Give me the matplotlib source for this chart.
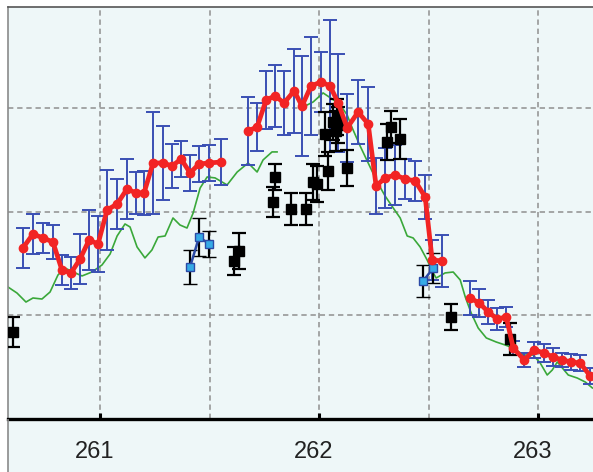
import numpy as np
import matplotlib
matplotlib.use("Agg")
import matplotlib.pyplot as plt
from matplotlib.patches import Rectangle
from matplotlib.transforms import ScaledTranslation

plt.rcParams['font.family'] = ['Liberation Sans', 'DejaVu Sans']

# binned mean curve, three pieces separated by gaps
red_x = [
    [260.648, 260.694, 260.740, 260.785, 260.826, 260.868, 260.909, 260.950, 260.991,
     261.032, 261.078, 261.123, 261.164, 261.201, 261.242, 261.288, 261.329, 261.370,
     261.411, 261.452, 261.498, 261.553],
    [261.676, 261.717, 261.758, 261.799, 261.840, 261.886, 261.922, 261.963, 262.009,
     262.050, 262.087, 262.128, 262.178, 262.224, 262.260, 262.301, 262.347, 262.393,
     262.438, 262.484, 262.516, 262.562],
    [262.689, 262.731, 262.772, 262.813, 262.854, 262.886, 262.936, 262.982, 263.027,
     263.068, 263.110, 263.151, 263.192, 263.237],
]
red_y = [
    [1.652, 1.787, 1.749, 1.710, 1.440, 1.411, 1.546, 1.729, 1.691, 2.019, 2.077, 2.222,
     2.184, 2.184, 2.473, 2.473, 2.444, 2.512, 2.377, 2.464, 2.473, 2.483],
    [2.783, 2.821, 3.082, 3.121, 3.053, 3.169, 3.024, 3.217, 3.256, 3.217, 3.053, 2.812,
     2.966, 2.850, 2.251, 2.329, 2.357, 2.319, 2.300, 2.145, 1.536, 1.527],
    [1.169, 1.121, 1.034, 0.966, 0.986, 0.686, 0.570, 0.667, 0.638, 0.599, 0.570, 0.551,
     0.541, 0.415],
]
red_err = [
    [0.193, 0.193, 0.145, 0.164, 0.145, 0.155, 0.242, 0.290, 0.271, 0.386, 0.242, 0.290,
     0.203, 0.213, 0.493, 0.357, 0.213, 0.174, 0.174, 0.174, 0.174, 0.222],
    [0.329, 0.232, 0.280, 0.300, 0.309, 0.406, 0.483, 0.473, 0.290, 0.638, 0.473, 0.329,
     0.309, 0.357, 0.271, 0.290, 0.290, 0.193, 0.193, 0.213, 0.193, 0.251],
    [0.164, 0.135, 0.116, 0.106, 0.097, 0.068, 0.068, 0.077, 0.087, 0.087, 0.068, 0.077,
     0.077, 0.077],
]

# model curve (nan = gap)
green_x = [260.580, 260.621, 260.662, 260.694, 260.735, 260.772, 260.808, 260.840, 260.877,
           260.918, 260.963, 261.009, 261.046, 261.078, 261.114, 261.137, 261.169, 261.205,
           261.237, 261.265, 261.297, 261.333, 261.365, 261.397, 261.425, 261.457, 261.489,
           261.525, 261.580, 261.626, 261.676, 261.717, 261.744, 261.785, 261.808, 261.87,
           261.927, 261.973, 262.018, 262.059, 262.096, 262.128, 262.151, 262.187, 262.224,
           262.265, 262.301, 262.338, 262.370, 262.402, 262.429, 262.461, 262.493, 262.516,
           262.534, 262.575, 262.612, 262.644, 262.667, 262.694, 262.726, 262.763, 262.808,
           262.849, 262.886, 262.932, 262.977, 263.009, 263.041, 263.064, 263.087, 263.110,
           263.137, 263.178, 263.215, 263.247]
green_y = [1.275, 1.217, 1.130, 1.169, 1.159, 1.227, 1.391, 1.459, 1.420, 1.382, 1.420, 1.488,
           1.594, 1.768, 1.884, 1.855, 1.662, 1.556, 1.633, 1.758, 1.768, 1.942, 1.874, 1.845,
           1.990, 2.232, 2.338, 2.329, 2.261, 2.386, 2.473, 2.386, 2.502, 2.580, 2.580, np.nan,
           3.014, 3.063, 3.150, 3.092, 3.034, 2.937, 2.812, 2.638, 2.473, 2.290, 2.155, 2.039,
           1.942, 1.768, 1.749, 1.662, 1.536, 1.430, 1.362, 1.411, 1.420, 1.343, 1.179, 1.024,
           0.879, 0.783, 0.744, 0.715, 0.686, 0.618, 0.618, 0.541, 0.425, 0.473, 0.551, 0.493,
           0.425, 0.396, 0.357, 0.300]

# individual measurements
black_x = [260.603, 261.612, 261.635, 261.790, 261.799, 261.872, 261.941, 261.973, 261.991,
           262.027, 262.041, 262.064, 262.078, 262.082, 262.087, 262.128, 262.311, 262.329,
           262.370, 262.603, 262.872]
black_y = [0.841, 1.527, 1.623, 2.097, 2.338, 2.029, 2.029, 2.290, 2.271, 2.754, 2.396, 2.870,
           2.783, 2.918, 2.841, 2.425, 2.676, 2.821, 2.705, 0.986, 0.773]
black_err = [0.145, 0.135, 0.174, 0.145, 0.126, 0.155, 0.155, 0.174, 0.174, 0.213, 0.184, 0.174,
             0.193, 0.174, 0.174, 0.174, 0.174, 0.155, 0.193, 0.126, 0.155]

blue_x = [[261.411, 261.452, 261.498], [262.475, 262.521]]
blue_y = [[1.469, 1.758, 1.691], [1.333, 1.459]]
blue_err = [[0.164, 0.184, 0.126], [0.155, 0.145]]

bg = '#eef7f8'
fig = plt.figure(figsize=(5.93, 4.72), dpi=100, facecolor='white')
fig.patches.append(Rectangle((8 / 593, 0), 1, 465 / 472, transform=fig.transFigure,
                             facecolor=bg, edgecolor='none', zorder=-1))
ax = fig.add_axes([8 / 593, 53 / 472, 1 - 8 / 593, 412 / 472])
ax.set_facecolor(bg)

ax.plot(green_x, green_y, color='#3aa83a', lw=1.2, zorder=2)

for bx, by, be in zip(blue_x, blue_y, blue_err):
    ax.errorbar(bx, by, yerr=be, fmt='-s', color='#2b4aa6', lw=1.8, ms=6,
                mfc='#36aae6', mec='#2b4aa6', mew=1.0, ecolor='black',
                elinewidth=1.6, capsize=5, capthick=1.6, zorder=4)

ax.errorbar(black_x, black_y, yerr=black_err, fmt='s', color='black', ms=6.5,
            ecolor='black', elinewidth=1.6, capsize=5, capthick=1.6, zorder=4)

for rx, ry, re in zip(red_x, red_y, red_err):
    ax.errorbar(rx, ry, yerr=re, fmt='none', ecolor='#3a4fb4', elinewidth=1.4,
                capsize=5, capthick=1.4, zorder=3)
    ax.plot(rx, ry, '-o', color='#f22424', lw=3.4, ms=6, zorder=5)

ax.set_xlim(260.58, 263.25)
ax.set_ylim(0, 3.98)
ax.set_xticks([261, 262, 263])
ax.set_xticks([261.5, 262.5], minor=True)
ax.set_yticks([1, 2, 3])
ax.set_xticklabels(['261', '262', '263'])
ax.tick_params(axis='x', which='major', direction='in', length=4, width=2.2,
               color='black', labelsize=17, labelcolor='#222222', pad=16)
ax.tick_params(axis='x', which='minor', length=0)
ax.tick_params(axis='y', length=0, labelleft=False)
ax.grid(True, which='both', color='#8f8f8f', lw=1.1, ls=(0, (3.5, 2.5)), zorder=1)
ax.set_axisbelow(True)

# labels sit a little left of their ticks
shift = ScaledTranslation(-0.055, 0, fig.dpi_scale_trans)
for lab in ax.get_xticklabels():
    lab.set_transform(lab.get_transform() + shift)

ax.spines['right'].set_visible(False)
ax.spines['bottom'].set_color('black')
ax.spines['bottom'].set_linewidth(2.4)
ax.spines['top'].set_color('#555555')
ax.spines['top'].set_linewidth(1.2)
ax.spines['left'].set_color('#8a8a8a')
ax.spines['left'].set_linewidth(1.2)

fig.patches.append(Rectangle((8 / 593, 0), 0, 53 / 472, transform=fig.transFigure,
                             facecolor='none', edgecolor='#8a8a8a', lw=1.2, zorder=1))

fig.savefig('out.png', dpi=100, facecolor='white')
